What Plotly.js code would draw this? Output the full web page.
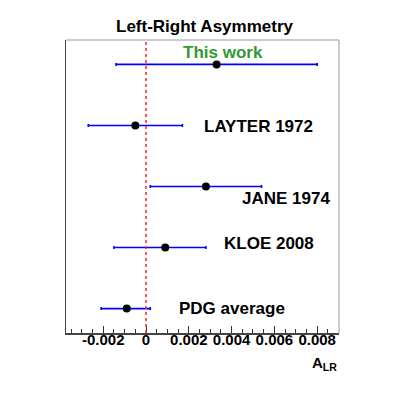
<!DOCTYPE html>
<html>
<head>
<meta charset="utf-8">
<script src="https://cdn.plot.ly/plotly-3.0.1.min.js"></script>
<style>
  html, body { margin: 0; padding: 0; background: #fff; }
  #chart { width: 409px; height: 397px; }
</style>
</head>
<body>
<div id="chart"></div>
<script>
// measurements, top row first
const labels = ["This work", "LAYTER 1972", "JANE 1974", "KLOE 2008", "PDG average"];
const rows = [5, 4, 3, 2, 1];
const values = [0.0033, -0.0005, 0.0028, 0.0009, -0.0009];
const errPlus = [0.0047, 0.0022, 0.0026, 0.0019, 0.0011];
const errMinus = [0.0047, 0.0022, 0.0026, 0.0024, 0.0012];

const tickVals = [-0.002, 0, 0.002, 0.004, 0.006, 0.008];
const tickText = ["-0.002", "0", "0.002", "0.004", "0.006", "0.008"];

const FONT = "Liberation Sans, Arial, sans-serif";

const trace = {
    x: values,
    y: rows,
    type: "scatter",
    mode: "markers",
    marker: { color: "black", size: 8 },
    error_x: {
        type: "data",
        symmetric: false,
        array: errPlus,
        arrayminus: errMinus,
        color: "#0000ff",
        thickness: 1.6,
        width: 1.5,
    },
    hoverinfo: "skip",
    showlegend: false,
};

// text placement for each row label
const labelPos = [
    { x: 0.0036, y: 5.19, xanchor: "center", color: "#339933" },
    { x: 0.00262, y: 3.98, xanchor: "left", color: "black" },
    { x: 0.0044, y: 2.81, xanchor: "left", color: "black" },
    { x: 0.00353, y: 2.06, xanchor: "left", color: "black" },
    { x: 0.00147, y: 1.0, xanchor: "left", color: "black" },
];

const annotations = labels.map((name, i) => ({
    x: labelPos[i].x,
    y: labelPos[i].y,
    xref: "x",
    yref: "y",
    xanchor: labelPos[i].xanchor,
    yanchor: "middle",
    text: "<b>" + name + "</b>",
    showarrow: false,
    font: { family: FONT, size: 17, color: labelPos[i].color },
}));

annotations.push({
    x: 1,
    y: -0.105,
    xref: "paper",
    yref: "paper",
    xanchor: "right",
    yanchor: "middle",
    text: "<b>A<sub>LR</sub></b>",
    showarrow: false,
    font: { family: FONT, size: 15, color: "black" },
});

const layout = {
    width: 409,
    height: 397,
    margin: { l: 66, r: 70, t: 40, b: 64 },
    paper_bgcolor: "white",
    plot_bgcolor: "white",
    font: { family: FONT, color: "black" },
    title: {
        text: "<b>Left-Right Asymmetry</b>",
        font: { family: FONT, size: 17, color: "black" },
        xref: "container",
        x: 0.5,
        xanchor: "center",
        yref: "container",
        y: 1 - 26 / 397,
        yanchor: "middle",
    },
    xaxis: {
        range: [-0.00374, 0.00902],
        tickmode: "array",
        tickvals: tickVals,
        ticktext: tickText,
        ticks: "inside",
        ticklen: 7,
        tickwidth: 1,
        tickcolor: "#333",
        ticklabelstandoff: -8,
        tickfont: { family: FONT, size: 15, weight: "bold", color: "black" },
        minor: { tickmode: "linear", tick0: 0, dtick: 0.0005, ticks: "inside", ticklen: 4, tickcolor: "#333" },
        showgrid: false,
        zeroline: false,
        showline: true,
        linecolor: "#444",
        linewidth: 1.5,
        fixedrange: true,
    },
    yaxis: {
        range: [0.6, 5.4],
        showticklabels: false,
        ticks: "",
        showgrid: false,
        zeroline: false,
        showline: true,
        linecolor: "#444",
        linewidth: 1.5,
        fixedrange: true,
    },
    shapes: [
        // light frame on top and right
        { type: "line", xref: "paper", yref: "paper", x0: 0, x1: 1, y0: 1, y1: 1, line: { color: "#bbbbbb", width: 1.5 } },
        { type: "line", xref: "paper", yref: "paper", x0: 1, x1: 1, y0: 0, y1: 1, line: { color: "#bbbbbb", width: 1.5 } },
        // zero reference
        { type: "line", xref: "x", yref: "paper", x0: 0, x1: 0, y0: 0, y1: 1, line: { color: "#ff2222", width: 1.5, dash: "dot" } },
    ],
    annotations: annotations,
};

Plotly.newPlot("chart", [trace], layout, { staticPlot: true, displayModeBar: false });
</script>
</body>
</html>
